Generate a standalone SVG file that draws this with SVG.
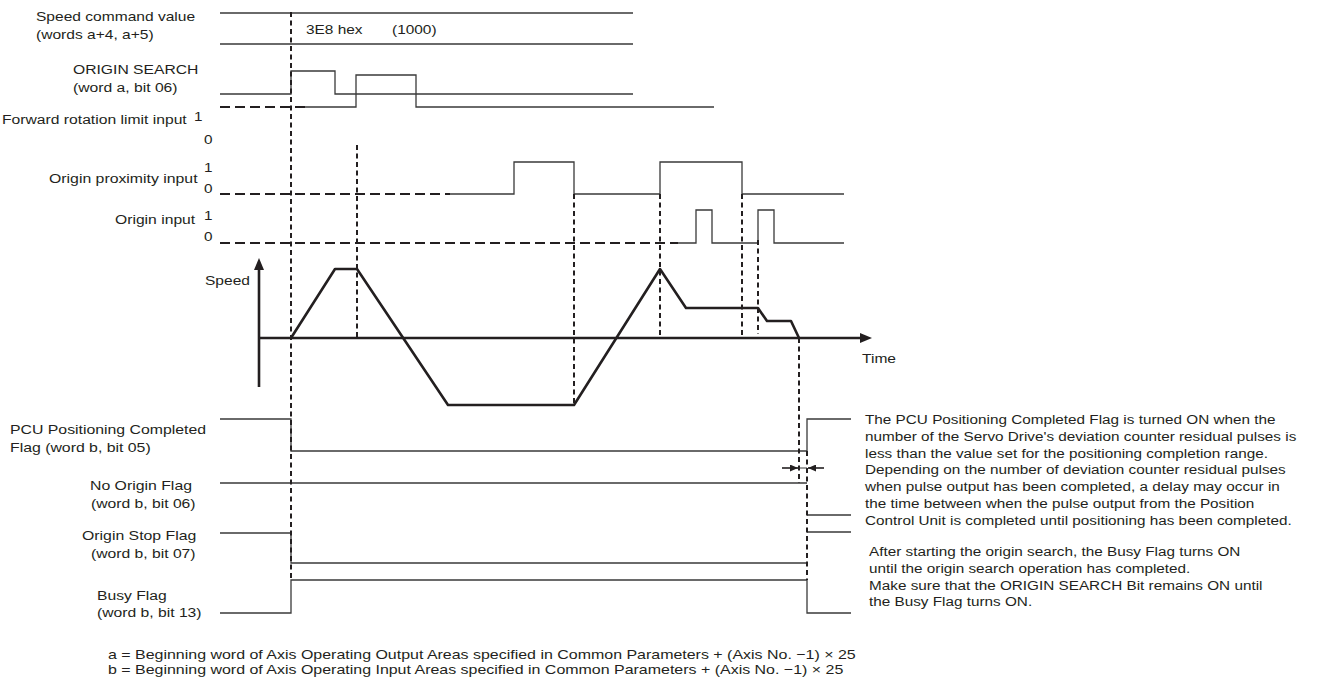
<svg xmlns="http://www.w3.org/2000/svg" width="1333" height="683" viewBox="0 0 1333 683">
<style>
.t{font-family:"Liberation Sans",Arial,Helvetica,sans-serif;font-size:13.3px;fill:#231f20}
.sig{fill:none;stroke:#3a3a3a;stroke-width:1.3}
.dh{fill:none;stroke:#231f20;stroke-width:2;stroke-dasharray:10 5}
.dv{fill:none;stroke:#231f20;stroke-width:2;stroke-dasharray:5 3.5}
.prof{fill:none;stroke:#231f20;stroke-width:2.6;stroke-linejoin:round}
.axis{fill:none;stroke:#231f20;stroke-width:2.6}
.dim{fill:none;stroke:#231f20;stroke-width:1.6}
</style>
<defs>
<marker id="axisArrow" viewBox="0 0 12 10" refX="6" refY="5" markerWidth="12" markerHeight="10" markerUnits="userSpaceOnUse" orient="auto">
<path d="M0,0 L12,5 L0,10 z" fill="#231f20"/>
</marker>
<marker id="dimArrow" viewBox="0 0 8 7" refX="8" refY="3.5" markerWidth="8" markerHeight="7" markerUnits="userSpaceOnUse" orient="auto">
<path d="M0,0 L8,3.5 L0,7 z" fill="#231f20"/>
</marker>
</defs>
<rect width="1333" height="683" fill="#ffffff"/>

<g id="speed-command">
<text class="t" transform="translate(36,21) scale(1.17,1)">Speed command value</text>
<text class="t" transform="translate(36,39) scale(1.17,1)">(words a+4, a+5)</text>
<path class="sig" d="M220,13 H633 M220,44 H633"/>
<text class="t" transform="translate(306,34) scale(1.16,1)">3E8 hex</text>
<text class="t" transform="translate(392,34) scale(1.16,1)">(1000)</text>
</g>

<g id="origin-search">
<text class="t" transform="translate(73,74) scale(1.18,1)">ORIGIN SEARCH</text>
<text class="t" transform="translate(73,92) scale(1.18,1)">(word a, bit 06)</text>
<path class="sig" d="M220,94 H291 V71 H335 V94 H633"/>
</g>

<g id="forward-limit">
<text class="t" transform="translate(2,124) scale(1.18,1)">Forward rotation limit input</text>
<text class="t" transform="translate(194,121) scale(1.15,1)">1</text>
<text class="t" transform="translate(204,144) scale(1.15,1)">0</text>
<path class="dh" d="M220,107 H305"/>
<path class="sig" d="M305,107 H356 V75 H416 V107 H714"/>
</g>

<g id="origin-proximity">
<text class="t" transform="translate(49,183) scale(1.19,1)">Origin proximity input</text>
<text class="t" transform="translate(204,172) scale(1.15,1)">1</text>
<text class="t" transform="translate(204,193) scale(1.15,1)">0</text>
<path class="dh" d="M220,194 H450"/>
<path class="sig" d="M450,194 H514 V162 H574 V194 H660 V162 H742 V194 H844"/>
</g>

<g id="origin-input">
<text class="t" transform="translate(115,224) scale(1.18,1)">Origin input</text>
<text class="t" transform="translate(204,220) scale(1.15,1)">1</text>
<text class="t" transform="translate(204,241) scale(1.15,1)">0</text>
<path class="dh" d="M220,243 H678"/>
<path class="sig" d="M678,243 H696 V210 H712 V243 H758 V210 H774 V243 H844"/>
</g>

<g id="speed-chart">
<text class="t" transform="translate(205,285) scale(1.17,1)">Speed</text>
<text class="t" transform="translate(862,363) scale(1.17,1)">Time</text>
<path class="axis" d="M259,387 V264" marker-end="url(#axisArrow)"/>
<path class="axis" d="M259,338 H866" marker-end="url(#axisArrow)"/>
<path class="prof" d="M291,338 L335,269 L357,269 L448,405 L574,405 L660,269 L686,308 L758,308 L767,321 L791,321 L799,338"/>
</g>

<g id="pcu-flag">
<text class="t" transform="translate(10,434) scale(1.19,1)">PCU Positioning Completed</text>
<text class="t" transform="translate(10,452) scale(1.19,1)">Flag (word b, bit 05)</text>
<path class="sig" d="M220,419 H291 V451 H807 V419 H851"/>
</g>

<g id="no-origin-flag">
<text class="t" transform="translate(90,490) scale(1.19,1)">No Origin Flag</text>
<text class="t" transform="translate(91,508) scale(1.18,1)">(word b, bit 06)</text>
<path class="sig" d="M220,483 H807 M807,515 H851"/>
</g>

<g id="origin-stop-flag">
<text class="t" transform="translate(82,540) scale(1.19,1)">Origin Stop Flag</text>
<text class="t" transform="translate(91,558) scale(1.18,1)">(word b, bit 07)</text>
<path class="sig" d="M220,533 H291 V563 H807 M807,532 H851"/>
</g>

<g id="busy-flag">
<text class="t" transform="translate(97,600) scale(1.18,1)">Busy Flag</text>
<text class="t" transform="translate(97,617) scale(1.18,1)">(word b, bit 13)</text>
<path class="sig" d="M220,613 H291 V580 H807 V613 H851"/>
</g>

<g id="note-pcu">
<text class="t" transform="translate(865,424) scale(1.15,1)"><tspan x="0" y="0">The PCU Positioning Completed Flag is turned ON when the</tspan><tspan x="0" y="16.8">number of the Servo Drive's deviation counter residual pulses is</tspan><tspan x="0" y="33.6">less than the value set for the positioning completion range.</tspan><tspan x="0" y="50.4">Depending on the number of deviation counter residual pulses</tspan><tspan x="0" y="67.2">when pulse output has been completed, a delay may occur in</tspan><tspan x="0" y="84">the time between when the pulse output from the Position</tspan><tspan x="0" y="100.8">Control Unit is completed until positioning has been completed.</tspan></text>
</g>

<g id="note-busy">
<text class="t" transform="translate(869,556) scale(1.15,1)"><tspan x="0" y="0">After starting the origin search, the Busy Flag turns ON</tspan><tspan x="0" y="16.8">until the origin search operation has completed.</tspan><tspan x="0" y="33.6">Make sure that the ORIGIN SEARCH Bit remains ON until</tspan><tspan x="0" y="50.4">the Busy Flag turns ON.</tspan></text>
</g>

<g id="footnotes">
<text class="t" transform="translate(108,659) scale(1.2,1)">a = Beginning word of Axis Operating Output Areas specified in Common Parameters + (Axis No. −1) × 25</text>
<text class="t" transform="translate(108,674) scale(1.2,1)">b = Beginning word of Axis Operating Input Areas specified in Common Parameters + (Axis No. −1) × 25</text>
</g>

<g id="connectors">
<path class="dv" d="M291,12 V580"/>
<path class="dv" d="M357,145 V338"/>
<path class="dv" d="M574,194 V405"/>
<path class="dv" d="M660,194 V338"/>
<path class="dv" d="M742,194 V338"/>
<path class="dv" d="M758,240 V334"/>
<path class="dv" d="M799,338 V483"/>
<path class="dv" d="M807,451 V580"/>
<path class="dim" d="M782,468 H798" marker-end="url(#dimArrow)"/>
<path class="dim" d="M824,468 H808" marker-end="url(#dimArrow)"/>
<path class="sig" d="M799,468 H807" style="stroke-width:1"/>
</g>
</svg>
